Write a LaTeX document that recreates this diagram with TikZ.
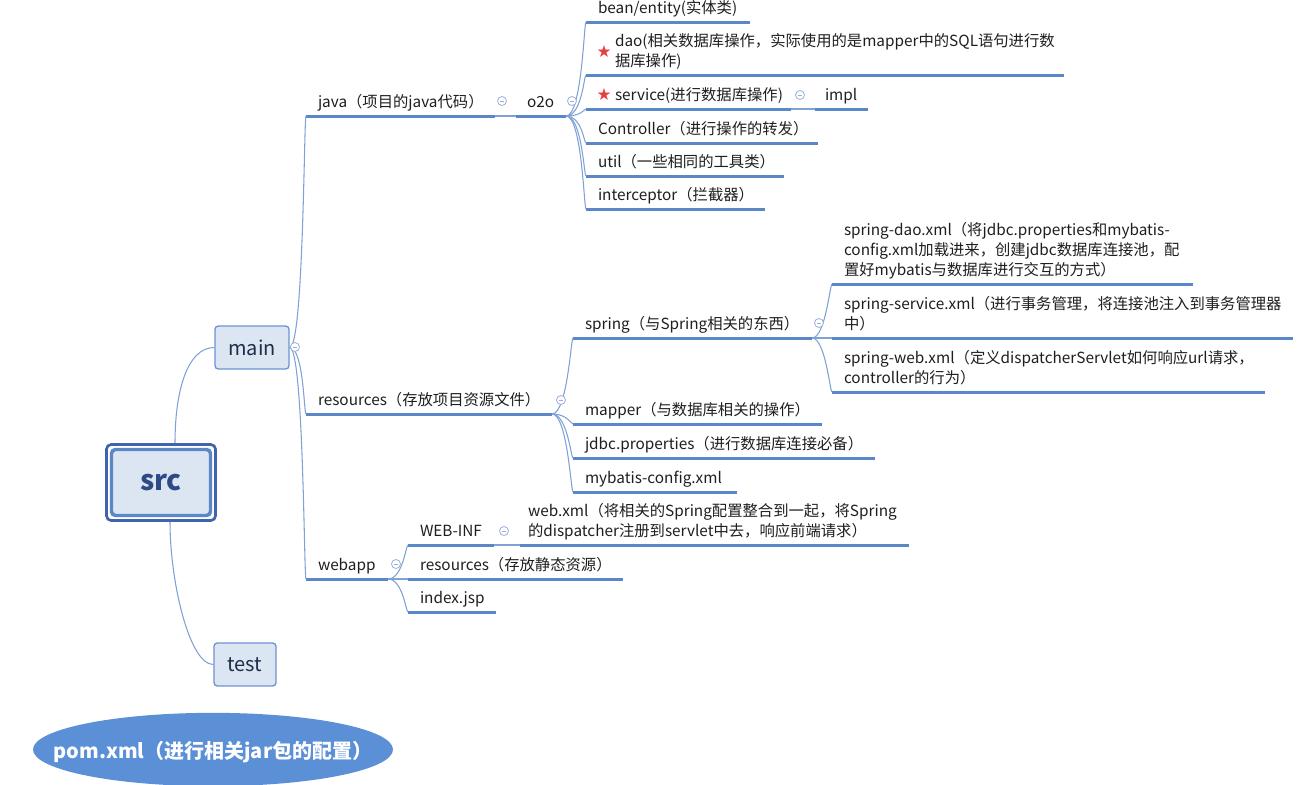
\documentclass[tikz,border=0pt]{standalone}
\usepackage{fontspec}
\setmainfont{Noto Sans CJK SC}
\newfontfamily\symfont{DejaVu Sans}
\hyphenpenalty=10000 \exhyphenpenalty=10000
\usetikzlibrary{shapes.geometric}
\definecolor{lineblue}{HTML}{5B87C8}
\definecolor{thinblue}{HTML}{7FA2D6}
\definecolor{boxfill}{HTML}{DCE6F2}
\definecolor{boxline}{HTML}{6E93CF}
\definecolor{srcdark}{HTML}{3F63AE}
\definecolor{srcmid}{HTML}{5B87C8}
\definecolor{srctext}{HTML}{2E4A86}
\definecolor{txt}{HTML}{1E1E1E}
\definecolor{navy}{HTML}{1F2D4A}
\definecolor{pomfill}{HTML}{5B8FD6}
\definecolor{foldc}{HTML}{9AB0D8}
\definecolor{starred}{HTML}{E5403F}
\begin{document}
\begin{tikzpicture}[x=0.75pt,y=-0.75pt,
  uline/.style={draw=lineblue, line width=2.25pt},
  topic/.style={anchor=south west, outer sep=0pt, inner xsep=9pt, inner ysep=6.75pt,
    text depth=0pt, align=left, font=\fontsize{11.5}{15}\selectfont, text=txt,
    append after command={(\tikzlastnode.south west) edge[uline] (\tikzlastnode.south east)}},
  two/.style={text depth=15pt},
  three/.style={text depth=30pt},
  branch/.style={draw=thinblue, line width=0.8pt},
  br/.style 2 args={to path={.. controls ([xshift=#1]\tikztostart) and ([xshift=#2]\tikztotarget) .. (\tikztotarget)}},
  fold/.style={circle, draw=foldc, fill=white, line width=0.6pt, minimum size=6.75pt, inner sep=0pt,
    path picture={\draw[foldc, line width=0.6pt] ([xshift=-1.6pt]path picture bounding box.center) -- ([xshift=1.6pt]path picture bounding box.center);}},
  box/.style={draw=boxline, fill=boxfill, rounded corners=2.5pt, line width=1pt, text=navy,
    font=\fontsize{15}{18}\selectfont, inner sep=0pt, minimum height=32.25pt},
  starmark/.style={text=starred, font=\symfont\fontsize{12.5}{12.5}\selectfont, inner sep=0pt}
]
\useasboundingbox (0,0) rectangle (1311,785);

% central and first level
\node[draw=srcdark, line width=2pt, rounded corners=3.5pt, minimum width=81.75pt, minimum height=57pt] (srcframe) at (161,482.5) {};
\node[draw=srcmid, fill=boxfill, line width=2.6pt, rounded corners=3pt, minimum width=74.25pt, minimum height=49.5pt,
  text=srctext, font=\bfseries\fontsize{21}{24}\selectfont] (src) at (161,482.5) {src};
\node[box, minimum width=55.5pt] (main) at (252,347.5) {main};
\node[box, minimum width=46.5pt] (test) at (245,664.5) {test};
\begin{scope}
\clip (0,0) rectangle (1311,785);
\node[ellipse, fill=pomfill, minimum width=270pt, minimum height=55pt, inner sep=0pt, text=white,
  text height=8pt, text depth=0pt,
  font=\bfseries\fontsize{15}{18}\selectfont] (pom) at (213,749.5) {\makebox[0pt]{\raisebox{-3pt}[0pt][0pt]{pom.xml（进行相关jar包的配置）}}};
\end{scope}

% main children
\node[topic, text width=123.75pt] (java) at (306,116) {java（项目的java代码）};
\node[topic, text width=166.5pt] (res) at (306,414) {resources（存放项目资源文件）};
\node[topic, text width=43.5pt] (webapp) at (306,579) {webapp};

% java
\node[topic, text width=21pt, inner xsep=8.25pt] (o2o) at (516,116) {o2o};
\node[topic, text width=105pt] (bean) at (586,22) {bean/entity(实体类)};
\node[topic, two, text width=340.5pt] (dao) at (586,75) {\hspace*{12.75pt}dao(相关数据库操作，实际使用的是mapper中的SQL语句进行数\\\hspace*{12.75pt}据库操作)};
\node[topic, text width=135.75pt] (service) at (586,109) {\hspace*{12.75pt}service(进行数据库操作)};
\node[topic, text width=24.75pt, inner xsep=7.5pt] (impl) at (815,109) {impl};
\node[topic, text width=156pt] (ctrl) at (586,143) {Controller（进行操作的转发）};
\node[topic, text width=130.5pt] (util) at (586,176) {util（一些相同的工具类）};
\node[topic, text width=116.25pt] (inter) at (586,209) {interceptor（拦截器）};
\node[starmark] (star1) at (604,52) {★};
\node[starmark] (star2) at (604,95) {★};

% resources
\node[topic, text width=161.25pt] (spring) at (573,338) {spring（与Spring相关的东西）};
\node[topic, three, text width=252.75pt] (sdao) at (832,284) {spring-dao.xml（将jdbc.properties和mybatis-\\config.xml加载进来，创建jdbc数据库连接池，配\\置好mybatis与数据库进行交互的方式）};
\node[topic, two, text width=327.75pt] (sservice) at (832,338) {spring-service.xml（进行事务管理，将连接池注入到事务管理器\\中）};
\node[topic, two, text width=306.75pt] (sweb) at (832,392) {spring-web.xml（定义dispatcherServlet如何响应url请求，\\controller的行为）};
\node[topic, text width=168.75pt] (mapper) at (573,424) {mapper（与数据库相关的操作）};
\node[topic, text width=208.5pt] (jdbc) at (573,458) {jdbc.properties（进行数据库连接必备）};
\node[topic, text width=105pt] (mybatis) at (573,492) {mybatis-config.xml};

% webapp
\node[topic, text width=46.5pt] (webinf) at (408,545) {WEB-INF};
\node[topic, two, text width=279.75pt, inner xsep=6pt] (webxml) at (520,545) {web.xml（将相关的Spring配置整合到一起，将Spring\\的dispatcher注册到servlet中去，响应前端请求）};
\node[topic, text width=143.25pt] (wres) at (408,579) {resources（存放静态资源）};
\node[topic, text width=48pt] (index) at (408,612) {index.jsp};

% connectors
\draw[branch] ([xshift=10.5pt]srcframe.north) .. controls ([xshift=10.5pt,yshift=40pt]srcframe.north) and ([xshift=-20pt]main.west) .. (main.west);
\draw[branch] ([xshift=6.75pt]srcframe.south) .. controls ([xshift=6.75pt,yshift=-45pt]srcframe.south) and ([xshift=-18pt]test.west) .. (test.west);

\foreach \c in {java,res,webapp}
  \draw[branch] (main.east) to[br={10.5pt}{-1.5pt}] (\c.south west);
\draw[branch] (java.south east) -- (o2o.south west);
\foreach \c in {bean,dao,service,ctrl,util,inter}
  \draw[branch] (o2o.south east) to[br={12pt}{-1.5pt}] (\c.south west);
\draw[branch] (service.south east) -- (impl.south west);
\foreach \c in {spring,mapper,jdbc,mybatis}
  \draw[branch] (res.south east) to[br={11.5pt}{-1.5pt}] (\c.south west);
\foreach \c in {sdao,sservice,sweb}
  \draw[branch] (spring.south east) to[br={10pt}{-1.5pt}] (\c.south west);
\foreach \c in {webinf,wres,index}
  \draw[branch] (webapp.south east) to[br={11pt}{-1.5pt}] (\c.south west);
\draw[branch] (webinf.south east) -- (webxml.south west);

% fold markers
\node[fold] (f1) at (295,347) {};
\node[fold] (f2) at (502,101) {};
\node[fold] (f3) at (572,101) {};
\node[fold] (f4) at (800,95) {};
\node[fold] (f5) at (561,400) {};
\node[fold] (f6) at (819,323) {};
\node[fold] (f7) at (396,564) {};
\node[fold] (f8) at (504,531) {};
\end{tikzpicture}
\end{document}
